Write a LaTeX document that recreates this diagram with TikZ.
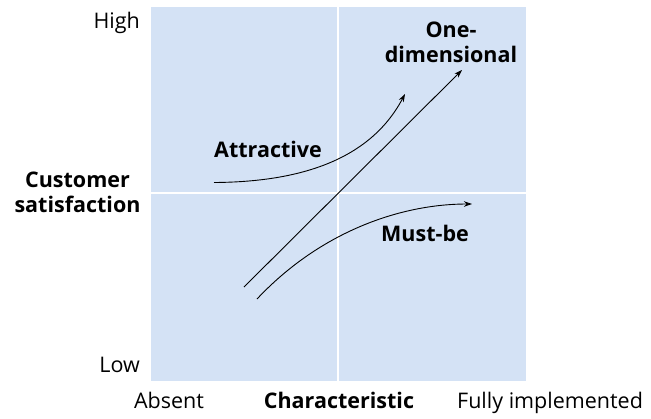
\documentclass[tikz,border=0pt]{standalone}
\usepackage{fontspec}
\setmainfont{Open Sans}
\usetikzlibrary{arrows.meta}
\definecolor{bgblue}{RGB}{212,226,245}
\begin{document}
\begin{tikzpicture}[x=1pt,y=-1pt,
  lbl/.style={font=\fontsize{21.5}{25}\selectfont, inner sep=0pt},
  blbl/.style={font=\fontsize{21.5}{25}\selectfont\bfseries, inner sep=0pt, align=center},
  curve/.style={line width=0.9pt, -{Stealth[length=8pt,width=5.5pt]}}]
\useasboundingbox (0,0) rectangle (651,418);
\fill[bgblue] (151,7) rectangle (526,381);
\draw[white, line width=1.5pt] (338,7) -- (338,381);
\draw[white, line width=1.5pt] (151,193) -- (526,193);
\node[lbl, anchor=base east] (high) at (140,28.3) {High};
\node[lbl, anchor=base east] (low) at (140,372.7) {Low};
\node[lbl, anchor=base] (absent) at (169,408) {Absent};
\node[blbl, anchor=base] (charac) at (339,408) {Characteristic};
\node[lbl, anchor=base west] (fully) at (457,408) {Fully implemented};
\node[blbl] (cs) at (77.5,192.4) {Customer\\satisfaction};
\node[blbl, anchor=base west] (attr) at (214,157.3) {Attractive};
\node[blbl, anchor=base west] (must) at (381,241.7) {Must-be};
\node[blbl] (oned) at (451,42) {One-\\dimensional};
\coordinate (a0) at (214,182.5);
\coordinate (a1) at (405,94);
\coordinate (o0) at (244,287);
\coordinate (o1) at (462,70);
\coordinate (m0) at (257,299);
\coordinate (m1) at (472,204);
\draw[curve] (a0) .. controls (300,182) and (370,160) .. (a1);
\draw[curve] (o0) -- (o1);
\draw[curve] (m0) .. controls (320,232) and (400,204) .. (m1);
\end{tikzpicture}
\end{document}
